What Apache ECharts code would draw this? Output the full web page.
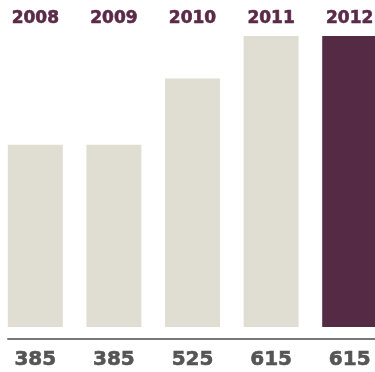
<!DOCTYPE html>
<html>
<head>
<meta charset="utf-8">
<script src="https://cdn.jsdelivr.net/npm/echarts@6/dist/echarts.min.js"></script>
<style>
  html, body { margin: 0; padding: 0; background: #fff; }
  #main { width: 375px; height: 372px; }
</style>
</head>
<body>
<div id="main"></div>
<script>
// years and values
var years = ['2008', '2009', '2010', '2011', '2012'];
var values = [385, 385, 525, 615, 615];
var highlight = 4; // last year in dark colour

var chart = echarts.init(document.getElementById('main'));

var option = {
  animation: false,
  grid: [
    { left: -4, width: 393, top: 36, height: 291, outerBoundsMode: 'none' },
    { left: 8, right: 0, top: 339, height: 0, outerBoundsMode: 'none' }
  ],
  xAxis: [{
    type: 'category',
    gridIndex: 0,
    position: 'top',
    data: years,
    offset: 1,
    axisLine: { show: false },
    axisTick: { show: false },
    axisLabel: {
      color: '#5a2a48',
      fontFamily: 'DejaVu Sans',
      fontWeight: 'bold',
      fontSize: 17,
      textBorderColor: '#5a2a48',
      textBorderWidth: 0.6
    }
  }, {
    type: 'category',
    gridIndex: 0,
    position: 'bottom',
    data: values.map(function(v) { return String(v); }),
    offset: 15,
    axisLine: { show: false },
    axisTick: { show: false },
    axisLabel: {
      color: '#555555',
      fontFamily: 'DejaVu Sans',
      fontWeight: 'bold',
      fontSize: 20,
      textBorderColor: '#555555',
      textBorderWidth: 0.6
    }
  }, {
    type: 'category',
    gridIndex: 1,
    data: years,
    axisLine: { show: true, lineStyle: { color: '#777777', width: 2 } },
    axisTick: { show: false },
    axisLabel: { show: false }
  }],
  yAxis: [{
    type: 'value',
    gridIndex: 0,
    min: 0,
    max: 615,
    show: false,
    splitLine: { show: false }
  }, {
    type: 'value',
    gridIndex: 1,
    show: false
  }],
  series: [{
    type: 'bar',
    xAxisIndex: 0,
    yAxisIndex: 0,
    barWidth: 55,
    data: values.map(function(v, i) {
      return {
        value: v,
        itemStyle: { color: i === highlight ? '#552a45' : '#e0ded3' }
      };
    })
  }]
};

chart.setOption(option);
</script>
</body>
</html>
